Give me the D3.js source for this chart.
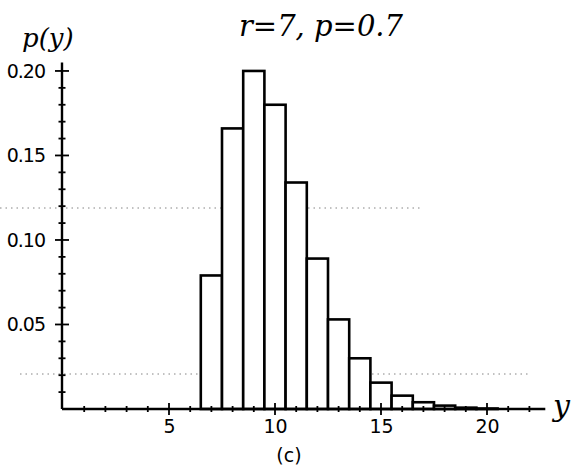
<!DOCTYPE html>
<html>
<head>
<meta charset="utf-8">
<script src="https://cdn.jsdelivr.net/npm/d3@7"></script>
<style>
  html, body { margin: 0; padding: 0; background: #fff; }
  svg { display: block; }
</style>
</head>
<body>
<div id="chart"></div>
<script>
// Data
const yValues = [7, 8, 9, 10, 11, 12, 13, 14, 15, 16, 17, 18, 19, 20];
const probs   = [0.079, 0.166, 0.200, 0.180, 0.134, 0.089, 0.053, 0.030, 0.0156, 0.0079, 0.0040, 0.0020, 0.0008, 0.0003];
const xMajorTicks = [5, 10, 15, 20];
const yMajorTicks = [0.05, 0.10, 0.15, 0.20];
const yTickLabels = ["0.05", "0.10", "0.15", "0.20"];
const titleText = "r=7,  p=0.7";

const W = 572, H = 472;
const svg = d3.select("#chart").append("svg").attr("width", W).attr("height", H);

const x = d3.scaleLinear().domain([0, 22.75]).range([63, 545.3]);
const y = d3.scaleLinear().domain([0, 0.205]).range([409, 62.5]);

const tickFont = "'DejaVu Sans', sans-serif";

// faint scan lines (dotted)
svg.append("line").attr("x1", 0).attr("x2", 420).attr("y1", 208).attr("y2", 208)
  .attr("stroke", "#666").attr("stroke-width", 1).attr("stroke-dasharray", "1.5,4").attr("opacity", 0.8);
svg.append("line").attr("x1", 20).attr("x2", 530).attr("y1", 374).attr("y2", 374)
  .attr("stroke", "#666").attr("stroke-width", 1).attr("stroke-dasharray", "1.5,4").attr("opacity", 0.8);

// bars
svg.append("g").selectAll("rect").data(yValues).join("rect")
  .attr("x", (d) => x(d - 0.5))
  .attr("width", (d) => x(d + 0.5) - x(d - 0.5))
  .attr("y", (d, i) => y(probs[i]))
  .attr("height", (d, i) => y(0) - y(probs[i]))
  .attr("fill", "#fff")
  .attr("stroke", "#000")
  .attr("stroke-width", 2.6);

// x axis
const xAxis = d3.axisBottom(x).tickValues(xMajorTicks).tickSize(0).tickPadding(11).tickFormat(d3.format("d"));
const gx = svg.append("g").attr("transform", `translate(0,${y(0)})`).call(xAxis);
gx.select(".domain").attr("stroke", "#000").attr("stroke-width", 2.6).attr("d", `M${x(0)-1},0H${x(22.75)}`);
gx.selectAll("text").attr("font-family", tickFont).attr("font-size", 19).attr("fill", "#000");
const xMinor = d3.range(1, 23);
svg.append("g").selectAll("line").data(xMinor).join("line")
  .attr("x1", (d) => x(d)).attr("x2", (d) => x(d))
  .attr("y1", (d) => y(0) - (d % 5 === 0 ? 6 : 3))
  .attr("y2", (d) => y(0) + (d % 5 === 0 ? 6 : 3))
  .attr("stroke", "#000").attr("stroke-width", 1.8);

// y axis
const yAxis = d3.axisLeft(y).tickValues(yMajorTicks).tickSize(0).tickPadding(17)
  .tickFormat((d, i) => yTickLabels[i]);
const gy = svg.append("g").attr("transform", `translate(${x(0) - 1},0)`).call(yAxis);
gy.select(".domain").attr("stroke", "#000").attr("stroke-width", 2.4).attr("d", `M0,${y(0)}V${y(0.205)}`);
gy.selectAll("text").attr("font-family", tickFont).attr("font-size", 19).attr("fill", "#000")
  .attr("letter-spacing", -1);
const yMinor = d3.range(1, 21).map((k) => k / 100);
svg.append("g").selectAll("line").data(yMinor).join("line")
  .attr("x1", (d, i) => x(0) - 1 - ((i + 1) % 5 === 0 ? 7 : 3.5))
  .attr("x2", (d, i) => x(0) - 1 + ((i + 1) % 5 === 0 ? 7 : 3.5))
  .attr("y1", (d) => y(d)).attr("y2", (d) => y(d))
  .attr("stroke", "#000").attr("stroke-width", 1.8);

// handwritten-style labels
const hand = "'DejaVu Serif', serif";
svg.append("text").attr("x", 321).attr("y", 36).attr("text-anchor", "middle")
  .attr("font-family", hand).attr("font-style", "italic").attr("font-size", 29).attr("fill", "#000")
  .text(titleText);
svg.append("text").attr("x", 22).attr("y", 47)
  .attr("font-family", hand).attr("font-style", "italic").attr("font-size", 26).attr("fill", "#000")
  .text("p(y)");
svg.append("text").attr("x", 553).attr("y", 416)
  .attr("font-family", hand).attr("font-style", "italic").attr("font-size", 30).attr("fill", "#000")
  .text("y");
svg.append("text").attr("x", 289).attr("y", 462).attr("text-anchor", "middle")
  .attr("font-family", tickFont).attr("font-size", 19).attr("fill", "#000")
  .text("(c)");
</script>
</body>
</html>
